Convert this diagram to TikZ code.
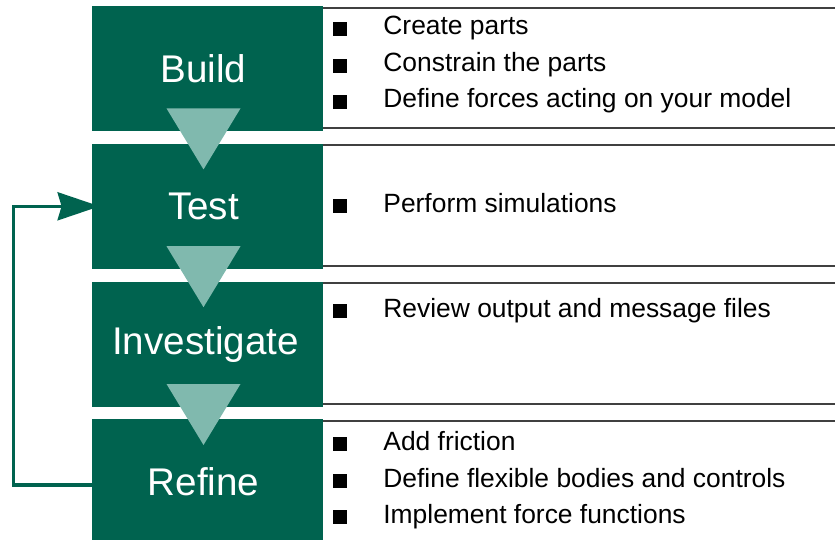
\documentclass[tikz,border=0pt]{standalone}
\usepackage{fontspec}
\setmainfont{Liberation Sans}
\usepackage{tikz}
\usetikzlibrary{positioning, arrows.meta, calc}

\definecolor{stage}{HTML}{00634F}
\definecolor{flow}{HTML}{80B9AE}
\definecolor{rulegray}{HTML}{404040}

% square bullet used in the task lists
\newcommand{\sqbullet}{\makebox[25pt][l]{\rule[-0.5pt]{7pt}{7pt}}}

\begin{document}
\begin{tikzpicture}[
    x=0.5pt, y=-0.5pt,
    stagebox/.style={fill=stage, minimum width=115.5pt, minimum height=62.5pt, inner sep=0pt,
        text=white, font=\fontsize{19.3}{23}\selectfont},
    item/.style={anchor=base west, inner sep=0pt, font=\fontsize{13.2}{16}\selectfont},
    rule/.style={draw=rulegray, line width=1pt},
    chevron/.style={fill=flow},
    feedback/.style={draw=stage, line width=1.7pt, -{Stealth[length=21pt, width=14pt, inset=2pt]}},
]
\useasboundingbox (0,0) rectangle (835,540);

% === LEFT: stage boxes ===
\node[stagebox] (build) at (207.5,68.5) {\hspace*{-4pt}Build};
\node[stagebox, below=6pt of build] (test) {\hspace*{-4pt}Test};
\node[stagebox, below=6pt of test] (invest) {\hspace*{-2pt}Investigate};
\node[stagebox, below=6pt of invest] (refine) {\hspace*{-4pt}Refine};

% --- down triangles between stages ---
\foreach \s in {build, test, invest}{
  \fill[chevron] ($(\s.south)+(-41,-23)$) -- ($(\s.south)+(33,-23)$)
      -- ($(\s.south)+(-4,38)$) -- cycle;
}

% === RIGHT: task lists ===
\foreach \s in {build, test, invest, refine}{
  \draw[rule] ($(\s.north east)+(0,2)$) -- ($(\s.north east)+(512,2)$);
  \draw[rule] ($(\s.south east)+(0,-3)$) -- ($(\s.south east)+(512,-3)$);
}

\node[item] (b1) at (333,35) {\sqbullet Create parts};
\node[item] (b2) at (333,72) {\sqbullet Constrain the parts};
\node[item] (b3) at (333,108) {\sqbullet Define forces acting on your model};

\node[item] (t1) at (333,212) {\sqbullet Perform simulations};

\node[item] (i1) at (333,317) {\sqbullet Review output and message files};

\node[item] (r1) at (333,450) {\sqbullet Add friction};
\node[item] (r2) at (333,487) {\sqbullet Define flexible bodies and controls};
\node[item] (r3) at (333,523) {\sqbullet Implement force functions};

% --- loop back from Refine to Test ---
\coordinate (rail) at ($(test.west)+(-78,0)$);
\draw[feedback] ($(refine.west)+(0,3)$) -| (rail) -- ($(test.west)+(8,0)$);

\end{tikzpicture}
\end{document}
